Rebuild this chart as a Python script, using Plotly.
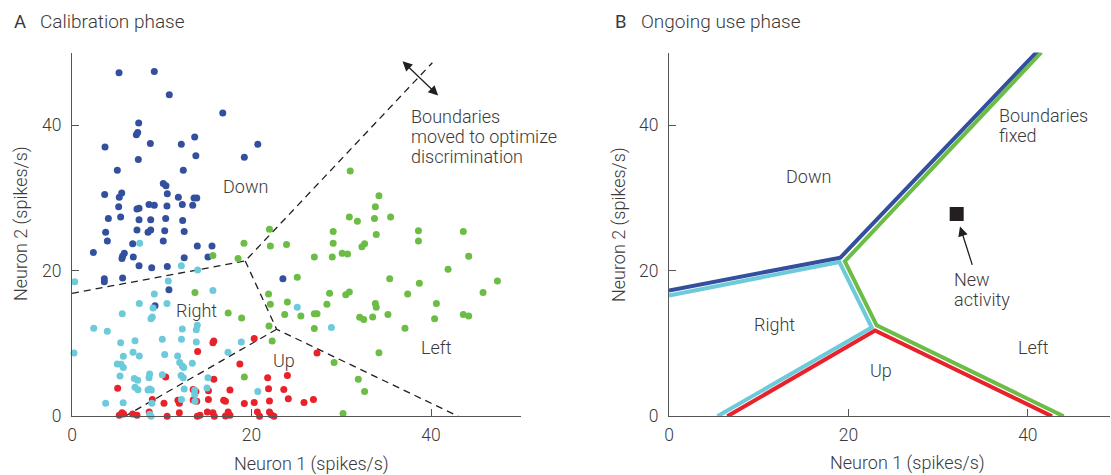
import plotly.graph_objects as go

# ---------------- data: calibration phase (neuron 1, neuron 2 rates) ----------------
down_x = [5.24, 9.17, 10.84, 16.8, 7.43, 7.32, 7.17, 3.68, 8.73, 12.18, 13.67, 20.7, 7.39, 13.8, 19.2, 5.05, 12.4,
          10.17, 10.47, 3.64, 5.54, 5.27, 10.62, 11.85, 13.6, 13.9, 13.45, 5.2, 8.58, 9.17, 10.58, 12.29, 7.24, 7.47,
          4.05, 5.42, 7.47, 8.77, 10.44, 12.33, 3.75, 7.24, 8.47, 8.77, 10.33, 12.5, 3.94, 6.76, 10.17, 13.96, 15.6,
          2.38, 5.83, 5.64, 5.57, 6.83, 12.5, 15.15, 7.47, 8.88, 10.62, 3.6, 3.6, 5.64, 10.8, 9.25, 23.5]
down_y = [47.2, 47.4, 44.2, 41.7, 40.3, 39.0, 38.7, 37.0, 37.5, 37.4, 38.4, 37.4, 35.3, 35.8, 35.6, 33.8, 33.8,
          32.0, 31.7, 30.5, 30.7, 30.1, 30.6, 30.1, 30.0, 30.0, 29.0, 28.8, 29.1, 29.0, 28.9, 29.1, 28.5, 28.6,
          27.2, 27.4, 27.0, 27.0, 27.2, 26.9, 25.3, 25.6, 25.3, 25.6, 25.5, 25.4, 24.1, 23.7, 24.1, 23.4, 23.4,
          22.5, 22.4, 22.0, 21.7, 21.9, 21.8, 21.9, 20.7, 20.4, 20.6, 18.9, 18.5, 19.0, 17.4, 15.2, 18.9]

right_x = [7.54, 12.18, 14.0, 0.3, 10.73, 9.17, 15.7,
           7.5, 10.58, 9.03, 5.6, 8.95, 8.8, 2.42, 3.93, 13.96, 13.85, 12.29, 10.06, 12.2, 5.42, 7.02, 13.85, 18.86,
           0.22, 5.72, 6.8, 7.5, 10.33, 11.77, 17.38, 5.05, 5.46, 5.72, 12.0, 12.29, 12.45, 13.4, 8.65, 8.58, 5.35,
           6.94, 7.32, 10.06, 12.15, 12.4, 15.15, 7.02, 7.35, 8.65, 8.47, 8.84, 12.5, 13.67, 13.67, 15.04, 3.75,
           12.2, 13.7, 8.65, 8.8, 20.7, 5.7, 8.9, 25.1, 28.9]
right_y = [23.8, 20.7, 20.1, 18.5, 18.6, 16.8, 17.3,
           15.5, 15.5, 14.9, 14.1, 13.65, 13.4, 12.1, 11.7, 12.5, 11.9, 12.0, 10.6, 10.6, 10.1, 10.4, 10.2, 10.2,
           8.7, 8.25, 8.8, 8.3, 8.5, 8.3, 8.8, 7.2, 7.15, 6.7, 7.4, 6.9, 6.7, 7.3, 5.8, 5.3, 5.55,
           5.2, 4.95, 5.7, 5.6, 5.3, 5.3, 4.0, 3.65, 3.75, 3.6, 3.6, 3.75, 3.6, 3.0, 3.9, 1.8,
           2.3, 2.06, 0.27, 0.0, 3.4, 1.85, 1.8, 15.0, 12.2]

up_x = [15.8, 15.7, 14.0, 20.3, 18.7, 10.44, 15.8, 5.09, 13.5, 13.8, 15.2, 17.6, 8.95, 10.25, 11.8, 11.96,
        13.5, 13.9, 15.2, 16.9, 17.1, 19.2, 20.3,
        5.27, 5.57, 5.75, 6.76, 7.24, 8.6, 10.6, 11.96, 13.96, 14.26, 15.08, 15.7, 15.86, 17.1, 17.4, 17.6,
        20.65, 20.9, 22.0, 22.2, 22.5,
        27.3, 21.8, 24.0, 21.9, 23.6, 22.0, 24.1, 25.85, 26.9]
up_y = [10.35, 10.1, 8.9, 10.7, 7.2, 5.4, 5.1, 3.85, 3.7, 3.4, 3.5, 3.6, 2.3, 1.8, 2.2, 1.8,
        2.25, 2.06, 2.3, 2.2, 2.06, 1.75, 1.9,
        0.14, 0.5, 0.3, 0.32, 0.14, 0.6, 0.0, 0.5, 0.0, 0.14, 0.6, 0.5, 0.0, 0.05, 0.6, 0.14,
        0.6, 0.0, 0.6, 0.23, 0.0,
        8.7, 5.3, 5.6, 3.8, 3.7, 2.1, 2.4, 1.9, 2.3]

left_x = [15.7, 18.5, 19.16, 13.7, 17.4, 18.9, 21.9, 22.1, 21.95, 22.1, 23.9, 23.7, 24.0, 31.0, 34.2, 33.8,
          30.9, 31.8, 33.7, 35.5, 29.1, 38.6, 43.6, 22.0, 29.1, 33.9, 38.6, 27.0, 29.0, 30.1, 30.7, 32.3, 32.6,
          44.2, 41.9, 25.1, 35.4, 38.7, 47.4, 28.7, 30.5, 30.9, 37.4, 45.8, 28.4, 33.8, 33.9, 40.6, 25.5, 27.0,
          27.3, 32.05, 32.5, 33.5, 35.2, 40.4, 43.6, 44.2, 27.0, 37.1, 22.3, 34.2, 29.2, 19.2, 31.9, 32.6, 30.2]
left_y = [22.1, 21.7, 23.8, 17.0, 14.2, 13.5, 16.8, 15.4, 12.4, 23.4, 23.6, 14.0, 15.7, 33.7, 30.3, 28.8,
          27.4, 26.8, 27.2, 27.4, 25.4, 25.5, 25.4, 25.7, 23.8, 25.0, 24.1, 21.9, 21.9, 22.4, 22.3, 23.3, 23.7,
          22.0, 20.2, 19.1, 18.9, 18.3, 18.6, 16.9, 16.7, 17.1, 16.8, 17.0, 15.4, 15.5, 15.0, 15.5, 13.8, 14.1,
          14.1, 13.6, 13.3, 13.65, 14.0, 13.4, 14.0, 13.8, 12.05, 12.1, 10.35, 8.75, 7.4, 5.4, 5.1, 3.4, 0.4]

# decision boundaries while calibrating (None separates the branches)
calib_bx = [0, 19.3, 40.15, None, 19.3, 22.8, 43.05, None, 22.8, 5.9]
calib_by = [16.9, 21.35, 48.6, None, 21.35, 11.96, 0, None, 11.96, 0]

# ---------------- data: ongoing use phase (fixed boundaries, one edge per class) ----------------
down_bx, down_by = [0, 19.1, 41.1], [17.3, 21.8, 50.2]
right_bx, right_by = [0, 19.0, 22.6, 5.4], [16.6, 21.2, 12.2, 0]
left_bx, left_by = [41.5, 19.6, 23.15, 44.0], [50.0, 21.3, 12.5, 0]
up_bx, up_by = [6.5, 22.97, 42.7], [0, 11.8, 0]
new_x, new_y = [32.07], [27.8]

tick_vals = [0, 20, 40]
tick_text = ["0", "20", "40"]

# ---------------- styling ----------------
C_DOWN = "#33509f"
C_RIGHT = "#6dcadb"
C_UP = "#e8222b"
C_LEFT = "#6cbd45"
INK = "#231f20"
TXT = "#3a3a3a"
AXC = "#555555"
FONT = "Roboto"

W, H = 1111, 475
Y_UNIT = (416.3 - 52.5) / 50  # px per spike/s on the vertical axes


def px(x):
    return x / W


def py(y):
    return 1 - y / H


fig = go.Figure()

# panel A
fig.add_trace(go.Scatter(x=calib_bx, y=calib_by, mode="lines", xaxis="x", yaxis="y",
                         line=dict(color=INK, width=1.3, dash="7px,5px"), hoverinfo="skip"))
for xs, ys, c in [(down_x, down_y, C_DOWN), (left_x, left_y, C_LEFT),
                  (up_x, up_y, C_UP), (right_x, right_y, C_RIGHT)]:
    fig.add_trace(go.Scatter(x=xs, y=ys, mode="markers", xaxis="x", yaxis="y", cliponaxis=False,
                             marker=dict(color=c, size=7, line=dict(width=0))))

# panel B
for xs, ys, c in [(right_bx, right_by, C_RIGHT), (up_bx, up_by, C_UP),
                  (down_bx, down_by, C_DOWN), (left_bx, left_by, C_LEFT)]:
    fig.add_trace(go.Scatter(x=xs, y=ys, mode="lines", xaxis="x2", yaxis="y2",
                             line=dict(color=c, width=4), hoverinfo="skip"))
fig.add_trace(go.Scatter(x=new_x, y=new_y, mode="markers", xaxis="x2", yaxis="y2",
                         marker=dict(symbol="square", size=14, color=INK)))

axis_common = dict(showgrid=False, zeroline=False, showline=True, linecolor=AXC, linewidth=1.3,
                   ticks="inside", ticklen=7, tickwidth=1.3, tickcolor=AXC,
                   tickvals=tick_vals, ticktext=tick_text, automargin=False,
                   tickfont=dict(family=FONT, size=17.5, color=TXT, weight=300),
                   fixedrange=True)
ydom = [py(416.3), py(52.5)]

fig.update_layout(
    template="none",
    width=W, height=H, margin=dict(l=0, r=0, t=0, b=0, pad=0, autoexpand=False),
    paper_bgcolor="white", plot_bgcolor="white", showlegend=False,
    font=dict(family=FONT, color=TXT, weight=300),
    xaxis=dict(domain=[px(72), px(520.75)], range=[0, 50], anchor="y", ticklabelstandoff=3, **axis_common),
    yaxis=dict(domain=ydom, range=[0, 50], anchor="x", ticklabelstandoff=6, **axis_common),
    xaxis2=dict(domain=[px(669), px(1110)], range=[0, 49.16], anchor="y2", ticklabelstandoff=3, **axis_common),
    yaxis2=dict(domain=ydom, range=[0, 50], anchor="x2", ticklabelstandoff=6, **axis_common),
)

ann = []


def label(text, x, y, xref, yref, size=18, xanchor="center", weight=300, angle=0):
    ann.append(dict(text=text, x=x, y=y, xref=xref, yref=yref, showarrow=False,
                    xanchor=xanchor, yanchor="middle", textangle=angle,
                    font=dict(family=FONT, size=size, color=TXT, weight=weight)))


def block(lines, x, y_top, xref, yref, step_px=20):
    # left-aligned stacked lines with a fixed 20 px leading
    for i, t in enumerate(lines):
        label(t, x, y_top - i * step_px / Y_UNIT, xref, yref, xanchor="left")


# panel titles
label("A", px(12), py(22), "paper", "paper", size=18.5, xanchor="left", weight=400)
label("Calibration phase", px(38), py(22), "paper", "paper", size=19, xanchor="left")
label("B", px(613), py(22), "paper", "paper", size=18.5, xanchor="left", weight=400)
label("Ongoing use phase", px(639), py(22), "paper", "paper", size=19, xanchor="left")

# axis titles
label("Neuron 1 (spikes/s)", px(311), py(464), "paper", "paper")
label("Neuron 1 (spikes/s)", px(907), py(463), "paper", "paper")
label("Neuron 2 (spikes/s)", px(21), py(224), "paper", "paper", angle=-90)
label("Neuron 2 (spikes/s)", px(619), py(225), "paper", "paper", angle=-90)

# region names, panel A
label("Down", 19.3, 31.6, "x", "y")
label("Right", 13.9, 14.6, "x", "y")
label("Up", 23.6, 7.7, "x", "y")
label("Left", 40.6, 9.4, "x", "y")
block(["Boundaries", "moved to optimize", "discrimination"], 37.5, 41.25, "x", "y")

# region names, panel B
label("Down", 15.5, 33.0, "x2", "y2")
label("Right", 11.8, 12.6, "x2", "y2")
label("Up", 23.6, 6.3, "x2", "y2")
label("Left", 40.6, 9.5, "x2", "y2")
block(["Boundaries", "fixed"], 36.6, 41.3, "x2", "y2")
block(["New", "activity"], 31.6, 18.8, "x2", "y2")

# double-headed arrow showing the boundary being shifted
ann.append(dict(x=40.8, y=44.1, ax=36.66, ay=49.0, xref="x", yref="y", axref="x", ayref="y",
                text="", showarrow=True, arrowhead=2, startarrowhead=2, arrowside="end+start",
                arrowsize=1.5, startarrowsize=1.5, arrowwidth=1.3, arrowcolor=INK))
# arrow pointing at the new activity sample
ann.append(dict(x=32.44, y=26.1, ax=33.86, ay=20.6, xref="x2", yref="y2", axref="x2", ayref="y2",
                text="", showarrow=True, arrowhead=2, arrowsize=1.5, arrowwidth=1.3, arrowcolor=INK))

fig.update_layout(annotations=ann)

fig.write_html("out.html")
